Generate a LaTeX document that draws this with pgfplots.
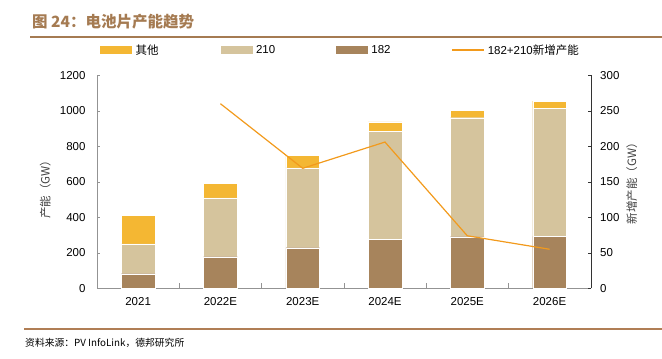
\documentclass[border=0pt]{standalone}
\usepackage{fontspec}
\setmainfont{Liberation Sans}
\newfontfamily\cjk{Noto Sans CJK SC}
\usepackage{pgfplots}
\pgfplotsset{compat=1.18}
\definecolor{cOther}{HTML}{F4B733}
\definecolor{c210}{HTML}{D5C49D}
\definecolor{c182}{HTML}{A7845C}
\definecolor{cLine}{HTML}{F29A1C}
\definecolor{cTitle}{HTML}{A57B52}
\definecolor{cRule}{HTML}{B07E55}
\begin{document}
\begin{tikzpicture}
\path[use as bounding box] (0bp,0bp) rectangle (662bp,-359bp);
\draw[cTitle, line width=1.5bp] (30bp,-37bp) -- (662bp,-37bp);
\node[anchor=west, text=cTitle, font=\cjk\bfseries\fontsize{15.5bp}{18bp}\selectfont, inner sep=0pt] at (32bp,-22bp) {图 24：电池片产能趋势};
\draw[cRule, line width=1.2bp] (24bp,-329bp) -- (662bp,-329bp);
\node[anchor=west, font=\cjk\fontsize{9.8bp}{12bp}\selectfont, inner sep=0pt] at (25bp,-343bp) {资料来源：PV InfoLink，德邦研究所};

\begin{axis}[
  at={(97bp,-288.3bp)}, anchor=south west, scale only axis,
  width=493.7bp, height=213bp,
  ybar stacked, bar width=0.41,
  xmin=-0.5, xmax=5.5, ymin=0, ymax=1200,
  axis y line*=left, axis x line*=bottom,
  axis line style={draw=gray!85, -},
  xtick={0,...,5},
  xticklabels={2021,2022E,2023E,2024E,2025E,2026E},
  major x tick style={draw=none},
  minor xtick={0.5,1.5,2.5,3.5,4.5},
  minor tick length=5bp, major tick length=3bp,
  tick style={gray!85},
  ytick={0,200,...,1200},
  /pgf/number format/assume math mode=true,
  /pgf/number format/1000 sep={},
  ticklabel style={font=\fontsize{11.5bp}{13bp}\selectfont},
  xticklabel style={yshift=-6bp},
  yticklabel style={xshift=-8bp},
  ylabel={\cjk 产能（GW）},
  ylabel style={at={(axis description cs:-0.105,0.476)}, anchor=center, font=\fontsize{11.5bp}{13bp}\selectfont, text=black!75},
  legend columns=4,
  legend style={draw=none, fill=none, inner sep=0pt, column sep=0pt,
    nodes={inner sep=0pt, anchor=west},
    at={(axis description cs:0.0061,1.119)}, anchor=west,
    font=\fontsize{11.5bp}{13bp}\selectfont},
]
\addlegendimage{legend image code/.code={\fill[cOther] (0bp,-3.5bp) rectangle (31bp,3.5bp);}}
\addlegendentry{\makebox[89bp][l]{\hspace{4bp}\cjk 其他}}
\addlegendimage{legend image code/.code={\fill[c210] (0bp,-3.5bp) rectangle (31bp,3.5bp);}}
\addlegendentry{\makebox[84bp][l]{\hspace{4bp}210}}
\addlegendimage{legend image code/.code={\fill[c182] (0bp,-3.5bp) rectangle (31bp,3.5bp);}}
\addlegendentry{\makebox[85bp][l]{\hspace{4bp}182}}
\addlegendimage{legend image code/.code={\fill[cLine] (0bp,-0.65bp) rectangle (31bp,0.65bp);}}
\addlegendentry{\hspace{4bp}182+210{\cjk 新增产能}}

\addplot[forget plot, fill=c182, draw=white, line width=0.3bp] coordinates {(0,82) (1,178) (2,229) (3,276) (4,291) (5,293)};
\addplot[forget plot, fill=c210, draw=white, line width=0.3bp] coordinates {(0,169) (1,332) (2,450) (3,610) (4,670) (5,721)};
\addplot[forget plot, fill=cOther, draw=white, line width=0.3bp] coordinates {(0,160) (1,81) (2,72) (3,52) (4,43) (5,41)};
\end{axis}

\begin{axis}[
  at={(97bp,-288.3bp)}, anchor=south west, scale only axis,
  width=493.7bp, height=213bp,
  xmin=-0.5, xmax=5.5, ymin=0, ymax=300,
  axis y line*=right, axis x line=none,
  axis line style={draw=black!80, -},
  major tick length=3bp,
  tick style={black!80},
  ytick={0,50,...,300},
  /pgf/number format/assume math mode=true,
  ticklabel style={font=\fontsize{11.5bp}{13bp}\selectfont},
  yticklabel style={xshift=6bp},
  ylabel={\cjk 新增产能（GW）},
  ylabel style={at={(axis description cs:1.083,0.506)}, anchor=center, rotate=0, font=\fontsize{11.5bp}{13bp}\selectfont, text=black!75},
]
\addplot[cLine, line width=1.2bp, mark=none] coordinates {(1,260) (2,169) (3,206) (4,74) (5,55)};
\end{axis}
\end{tikzpicture}
\end{document}
